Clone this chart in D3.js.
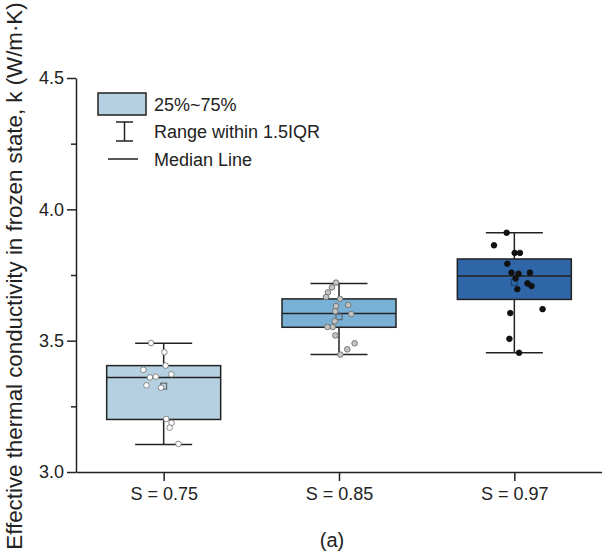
<!DOCTYPE html>
<html>
<head>
<meta charset="utf-8">
<script src="https://cdn.jsdelivr.net/npm/d3@7"></script>
<style>
  body { margin: 0; background: #fff; }
  text { font-family: "Liberation Sans", Arial, sans-serif; fill: #222; }
</style>
</head>
<body>
<svg width="602" height="553"></svg>
<script>
// categories and box stats
var categories = ["S = 0.75", "S = 0.85", "S = 0.97"];
var q1 = [3.200, 3.551, 3.657];
var median = [3.360, 3.603, 3.746];
var q3 = [3.405, 3.659, 3.811];
var whiskerLow = [3.105, 3.447, 3.454];
var whiskerHigh = [3.490, 3.718, 3.911];
var means = [3.327, 3.591, 3.722];
var yTicks = [3.0, 3.5, 4.0, 4.5];

// raw points: [value, jitter in category units]
var pts075 = [[3.491,-0.072],[3.456,0.004],[3.405,0.011],[3.389,-0.116],[3.360,-0.078],[3.363,-0.045],
  [3.372,0.044],[3.330,-0.098],[3.321,-0.015],[3.202,0.015],[3.187,0.045],[3.169,0.034],[3.107,0.084]];
var pts085 = [[3.721,-0.017],[3.703,-0.040],[3.684,-0.063],[3.666,-0.074],[3.659,0.006],[3.636,0.053],
  [3.632,-0.017],[3.612,-0.021],[3.601,0.070],[3.574,-0.024],[3.552,-0.036],[3.552,-0.066],
  [3.520,-0.021],[3.490,0.089],[3.467,0.047],[3.447,0.008]];
var pts097 = [[3.911,-0.044],[3.863,-0.116],[3.834,0.002],[3.834,0.032],[3.793,-0.040],[3.759,-0.016],
  [3.755,0.024],[3.759,0.089],[3.737,0.007],[3.718,0.075],[3.708,0.098],[3.696,0.017],
  [3.620,0.161],[3.605,-0.023],[3.507,-0.028],[3.454,0.027]];
var points = [pts075, pts085, pts097];

var boxFill = ["#b5d1e1", "#79b0d6", "#2f66a8"];
var dotFill = ["#ffffff", "#c4c4c4", "#111111"];
var dotStroke = ["#7a7a7a", "#6e6e6e", "#111111"];

var svg = d3.select("svg");
var mLeft = 76, mRight = 602, mTop = 78, mBottom = 472;

var y = d3.scaleLinear().domain([3.0, 4.5]).range([mBottom, mTop]);
var x = d3.scalePoint().domain(categories).range([mLeft, mRight]).padding(0.5);
var step = x.step();
var boxHalf = 57, capHalf = 28.5;

// y axis
var yAxis = svg.append("g").attr("transform", "translate(" + mLeft + ",0)")
  .call(d3.axisLeft(y).tickValues(yTicks).tickFormat(d3.format(".1f")).tickSize(9).tickSizeOuter(0));
yAxis.select(".domain").attr("stroke", "#222").attr("stroke-width", 1.5);
yAxis.selectAll(".tick line").attr("stroke", "#222").attr("stroke-width", 1.5);
yAxis.selectAll(".tick text").attr("font-size", "18px").attr("x", -12).attr("fill", "#222");
svg.append("g").attr("transform", "translate(" + mLeft + ",0)")
  .call(d3.axisLeft(y).tickValues([3.25, 3.75, 4.25]).tickFormat("").tickSize(5))
  .call(function(g) {
    g.select(".domain").remove();
    g.selectAll(".tick line").attr("stroke", "#222").attr("stroke-width", 1.5);
  });

// x axis
var xAxis = svg.append("g").attr("transform", "translate(0," + mBottom + ")")
  .call(d3.axisBottom(x).tickSize(9).tickSizeOuter(0));
xAxis.select(".domain").attr("stroke", "#222").attr("stroke-width", 1.5);
xAxis.selectAll(".tick line").attr("stroke", "#222").attr("stroke-width", 1.5);
xAxis.selectAll(".tick text").attr("font-size", "18px").attr("y", 15).attr("fill", "#222");

// y title
svg.append("text")
  .attr("transform", "translate(22,276) rotate(-90)")
  .attr("text-anchor", "middle")
  .attr("font-size", "22.3px")
  .text("Effective thermal conductivity in frozen state, k (W/m\u00b7K)");

// caption
svg.append("text").attr("x", 332).attr("y", 547).attr("text-anchor", "middle")
  .attr("font-size", "20px").text("(a)");

// boxes
categories.forEach(function(c, i) {
  var cx = x(c);
  var g = svg.append("g");
  g.append("line").attr("x1", cx).attr("x2", cx).attr("y1", y(whiskerHigh[i])).attr("y2", y(q3[i]))
    .attr("stroke", "#222").attr("stroke-width", 1.5);
  g.append("line").attr("x1", cx).attr("x2", cx).attr("y1", y(q1[i])).attr("y2", y(whiskerLow[i]))
    .attr("stroke", "#222").attr("stroke-width", 1.5);
  [whiskerHigh[i], whiskerLow[i]].forEach(function(v) {
    g.append("line").attr("x1", cx - capHalf).attr("x2", cx + capHalf).attr("y1", y(v)).attr("y2", y(v))
      .attr("stroke", "#222").attr("stroke-width", 1.5);
  });
  g.append("rect").attr("x", cx - boxHalf).attr("width", boxHalf * 2)
    .attr("y", y(q3[i])).attr("height", y(q1[i]) - y(q3[i]))
    .attr("fill", boxFill[i]).attr("stroke", "#222").attr("stroke-width", 1.5);
  g.append("line").attr("x1", cx - boxHalf).attr("x2", cx + boxHalf).attr("y1", y(median[i])).attr("y2", y(median[i]))
    .attr("stroke", "#222").attr("stroke-width", 1.5);
  // mean marker
  g.append("rect").attr("x", cx - 3).attr("y", y(means[i]) - 3).attr("width", 6).attr("height", 6)
    .attr("fill", "none").attr("stroke", i == 2 ? "#1b3f6e" : "#555").attr("stroke-width", 1);
  // data points
  g.selectAll(".dot").data(points[i]).enter().append("circle")
    .attr("cx", function(d) { return cx + d[1] * step; })
    .attr("cy", function(d) { return y(d[0]); })
    .attr("r", 2.8)
    .attr("fill", dotFill[i]).attr("stroke", dotStroke[i]).attr("stroke-width", 0.9);
});

// legend
var lg = svg.append("g");
lg.append("rect").attr("x", 98).attr("y", 93).attr("width", 48).attr("height", 22)
  .attr("fill", boxFill[0]).attr("stroke", "#222").attr("stroke-width", 1.5);
lg.append("line").attr("x1", 124.5).attr("x2", 124.5).attr("y1", 122).attr("y2", 141).attr("stroke", "#222").attr("stroke-width", 1.5);
lg.append("line").attr("x1", 116).attr("x2", 133).attr("y1", 122).attr("y2", 122).attr("stroke", "#222").attr("stroke-width", 1.5);
lg.append("line").attr("x1", 116).attr("x2", 133).attr("y1", 141).attr("y2", 141).attr("stroke", "#222").attr("stroke-width", 1.5);
lg.append("line").attr("x1", 108).attr("x2", 138).attr("y1", 159).attr("y2", 159).attr("stroke", "#222").attr("stroke-width", 1.5);
var labels = ["25%~75%", "Range within 1.5IQR", "Median Line"];
var baselines = [111, 138, 166];
labels.forEach(function(t, i) {
  lg.append("text").attr("x", 154).attr("y", baselines[i]).attr("font-size", "18px").text(t);
});
</script>
</body>
</html>
